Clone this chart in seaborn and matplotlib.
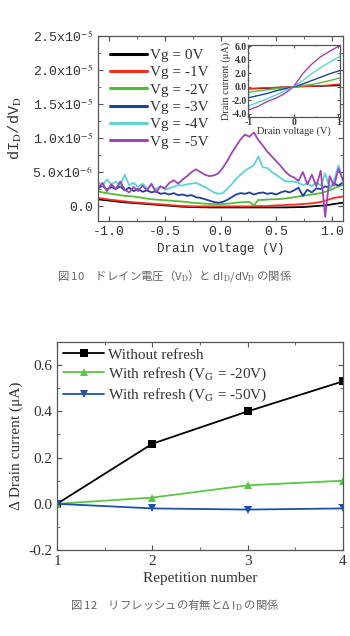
import numpy as np
import pandas as pd
import matplotlib
matplotlib.use("Agg")
import matplotlib.pyplot as plt
from matplotlib.ticker import MultipleLocator, FuncFormatter
import seaborn as sns

# ---------------- Fig.10 : dI/dV vs drain voltage (values in 1e-6 A/V) ----------------
VD = [-1.10, -1.06, -1.02, -0.98, -0.94, -0.90, -0.86, -0.82, -0.78, -0.74,
      -0.70, -0.66, -0.62, -0.58, -0.54, -0.50, -0.46, -0.42, -0.38, -0.34,
      -0.30, -0.26, -0.22, -0.18, -0.14, -0.10, -0.06, -0.02, 0.02, 0.06,
      0.10, 0.14, 0.18, 0.22, 0.26, 0.30, 0.34, 0.38, 0.42, 0.46,
      0.50, 0.54, 0.58, 0.62, 0.66, 0.70, 0.74, 0.78, 0.82, 0.86,
      0.90, 0.94, 0.98, 1.02, 1.06, 1.10]

VG0 = [1.0, 0.9, 0.85, 0.75, 0.7, 0.6, 0.55, 0.5, 0.45, 0.4,
       0.35, 0.3, 0.25, 0.2, 0.15, 0.1, 0.05, 0.0, -0.05, -0.1,
       -0.12, -0.15, -0.15, -0.18, -0.18, -0.2, -0.2, -0.2, -0.2, -0.2,
       -0.2, -0.2, -0.2, -0.2, -0.2, -0.2, -0.2, -0.2, -0.2, -0.2,
       -0.2, -0.2, -0.2, -0.18, -0.18, -0.15, -0.15, -0.1, -0.05, 0.0,
       0.05, 0.1, 0.2, 0.3, 0.4, 0.5]
VG1 = [1.2, 1.1, 1.0, 0.9, 0.85, 0.75, 0.7, 0.6, 0.55, 0.5,
       0.45, 0.4, 0.35, 0.3, 0.25, 0.2, 0.15, 0.1, 0.05, 0.0,
       0.0, -0.05, -0.05, -0.05, -0.05, -0.05, -0.05, -0.05, -0.05, -0.05,
       -0.05, -0.05, -0.05, -0.05, -0.05, 0.0, 0.0, 0.0, 0.0, 0.05,
       0.1, 0.1, 0.15, 0.2, 0.2, 0.25, 0.3, 0.35, 0.4, 0.5,
       0.6, 0.8, 1.0, 1.2, 1.3, 1.4]
VG2 = [2.2, 2.0, 1.9, 1.8, 1.7, 1.6, 1.5, 1.45, 1.4, 1.3,
       1.2, 1.1, 1.0, 0.95, 0.9, 0.85, 0.8, 0.75, 0.7, 0.65,
       0.6, 0.5, 0.45, 0.4, 0.35, 0.3, 0.3, 0.25, 0.3, 0.35,
       0.4, 0.5, 0.55, 0.6, 0.6, 0.1, 0.9, 0.9, 0.95, 1.0,
       1.0, 1.05, 1.1, 1.2, 1.3, 1.4, 1.5, 1.6, 1.7, 1.8,
       1.9, 2.1, 2.3, 2.6, 2.9, 3.1]
VG3 = [2.6, 3.0, 2.4, 2.8, 2.5, 2.9, 2.3, 2.7, 2.2, 2.5,
       2.1, 2.3, 2.0, 2.2, 1.8, 1.9, 1.7, 1.9, 1.6, 1.7,
       1.5, 1.6, 1.3, 1.2, 1.0, 0.8, 0.6, 0.5, 0.6, 0.9,
       1.3, 1.7, 1.9, 1.8, 2.0, 1.7, 1.9, 2.0, 1.8, 1.9,
       1.7, 2.0, 2.2, 2.0, 2.3, 2.7, 1.5, 2.4, 2.0, 2.6,
       2.5, 2.9, 2.7, 3.3, 3.0, 3.5]
VG4 = [3.5, 3.0, 3.9, 3.2, 3.6, 3.0, 4.6, 3.1, 3.4, 2.8,
       3.3, 2.6, 3.0, 2.5, 2.9, 2.4, 2.6, 2.8, 3.1, 3.0,
       3.2, 3.3, 3.4, 3.1, 2.8, 2.4, 2.0, 1.8, 1.9, 2.5,
       3.2, 4.0, 4.6, 5.2, 5.6, 6.0, 7.3, 5.7, 5.6, 5.0,
       4.6, 4.1, 3.7, 3.6, 3.6, 3.4, 3.1, 3.3, 2.9, 3.5,
       3.0, 4.8, 2.6, 3.8, 6.0, 3.5]
VG5 = [2.6, 3.4, 2.2, 3.2, 2.5, 3.6, 2.4, 2.0, 2.8, 2.2,
       3.0, 2.3, 3.3, 2.0, 2.9, 2.6, 3.4, 3.8, 3.3, 3.9,
       4.4, 5.0, 5.4, 5.0, 4.6, 4.4, 4.5, 4.8, 5.6, 6.6,
       7.8, 8.8, 9.8, 10.5, 10.2, 10.8, 9.7, 8.9, 8.0, 7.3,
       6.6, 5.9, 5.1, 4.5, 4.2, 3.7, 5.0, 3.2, 4.6, 2.9,
       5.2, -1.6, 4.4, 3.0, 5.5, 3.8]

VG_LABELS = ["Vg = 0V", "Vg = -1V", "Vg = -2V", "Vg = -3V", "Vg = -4V", "Vg = -5V"]
VG_COLORS = ["#000000", "#ff2a1a", "#55bb3c", "#1f3f9f", "#5fd2d6", "#a044b4"]

# inset: I-V curves (uA)
IV_V = [-1.0, -0.8, -0.6, -0.4, -0.2, 0.0, 0.2, 0.4, 0.6, 0.8, 1.04]
IV0 = [-0.3, -0.25, -0.2, -0.12, -0.06, 0.0, 0.05, 0.08, 0.1, 0.15, 0.2]
IV1 = [-0.25, -0.2, -0.15, -0.1, -0.05, 0.0, 0.05, 0.1, 0.15, 0.25, 0.4]
IV2 = [-0.8, -0.6, -0.45, -0.3, -0.15, 0.0, 0.15, 0.35, 0.6, 0.9, 1.3]
IV3 = [-1.6, -1.3, -1.0, -0.6, -0.3, 0.0, 0.4, 0.9, 1.4, 1.9, 2.4]
IV4 = [-2.8, -2.3, -1.8, -1.2, -0.6, 0.0, 0.9, 1.9, 2.8, 3.6, 4.5]
IV5 = [-3.4, -2.9, -2.2, -1.7, -1.0, 0.0, 1.9, 3.3, 4.4, 5.2, 6.1]

# ---------------- Fig.12 : delta drain current vs repetition ----------------
REPS = [1, 2, 3, 4]
NO_REFRESH = [0.0, 0.26, 0.40, 0.53]
REFRESH_20 = [0.0, 0.027, 0.08, 0.10]
REFRESH_50 = [0.0, -0.02, -0.025, -0.02]
REF_LABELS = ["Without refresh",
              r"With refresh (V$_\mathrm{G}$ = -20V)",
              r"With refresh (V$_\mathrm{G}$ = -50V)"]
REF_COLORS = ["#000000", "#5cc548", "#1f4fae"]
REF_MARKERS = ["s", "^", "v"]

sns.set_style("ticks")
plt.rcParams.update({
    "mathtext.fontset": "stix",
    "xtick.direction": "in", "ytick.direction": "in",
    "xtick.top": True, "ytick.right": True,
    "xtick.minor.visible": True, "ytick.minor.visible": True,
    "axes.edgecolor": "#555555", "axes.linewidth": 0.9,
    "xtick.color": "#555555", "ytick.color": "#555555",
    "xtick.labelcolor": "#333333", "ytick.labelcolor": "#333333",
    "xtick.major.size": 3.5, "ytick.major.size": 3.5,
    "xtick.minor.size": 2, "ytick.minor.size": 2,
})

MONO = "Liberation Mono"
SERIF = "Liberation Serif"
CJK = ["Noto Sans CJK JP", "DejaVu Sans"]

fig = plt.figure(figsize=(3.5, 6.36), dpi=100)

# ---- top chart ----
ax1 = fig.add_axes([0.28, 0.6525, 0.70, 0.2909])
didv = pd.DataFrame({
    "Vd": VD * 6,
    "dIdV": np.array(VG0 + VG1 + VG2 + VG3 + VG4 + VG5) * 1e-6,
    "Vg": np.repeat(VG_LABELS, len(VD)),
})
sns.lineplot(data=didv, x="Vd", y="dIdV", hue="Vg", hue_order=VG_LABELS,
             palette=VG_COLORS, estimator=None, sort=False, lw=1.3, ax=ax1)
ax1.set_xlim(-1.1, 1.1)
ax1.set_ylim(-2.2e-6, 2.5e-5)
ax1.xaxis.set_major_locator(MultipleLocator(0.5))
ax1.xaxis.set_minor_locator(MultipleLocator(0.25))
ax1.yaxis.set_major_locator(MultipleLocator(5e-6))
ax1.yaxis.set_minor_locator(MultipleLocator(2.5e-6))


def sci_fmt(v, pos):
    if abs(v) < 1e-12:
        return "0.0"
    m, e = f"{v:.1e}".split("e")
    return m + "x10$^{" + str(int(e)) + "}$"


ax1.yaxis.set_major_formatter(FuncFormatter(sci_fmt))
ax1.xaxis.set_major_formatter(FuncFormatter(lambda v, p: f"{v:.1f}"))
for t in ax1.get_xticklabels() + ax1.get_yticklabels():
    t.set_fontfamily(MONO)
    t.set_fontsize(9.5)
ax1.set_xlabel("Drain voltage (V)", family=MONO, fontsize=9, color="#333333", labelpad=4)
ax1.set_ylabel(r"dI$_\mathrm{D}$/dV$_\mathrm{D}$", family=MONO, fontsize=11,
               color="#333333", labelpad=6)
sns.move_legend(ax1, "upper left", title=None, frameon=False,
                prop={"family": SERIF, "size": 11}, handlelength=2.4,
                handletextpad=0.2, labelspacing=0.24, borderaxespad=0.4)
for h in ax1.get_legend().legend_handles:
    h.set_linewidth(2.2)
for t in ax1.get_legend().get_texts():
    t.set_color("#333333")

# inset
axi = fig.add_axes([0.7086, 0.816, 0.263, 0.1132])
iv = pd.DataFrame({
    "V": IV_V * 6,
    "I": IV0 + IV1 + IV2 + IV3 + IV4 + IV5,
    "Vg": np.repeat(VG_LABELS, len(IV_V)),
})
sns.lineplot(data=iv, x="V", y="I", hue="Vg", hue_order=VG_LABELS,
             palette=VG_COLORS, estimator=None, lw=1.0, legend=False, ax=axi)
axi.set_xlim(-1.02, 1.04)
axi.set_ylim(-4.45, 6.15)
axi.xaxis.set_major_locator(MultipleLocator(1))
axi.xaxis.set_minor_locator(MultipleLocator(0.5))
axi.yaxis.set_major_locator(MultipleLocator(2))
axi.yaxis.set_minor_locator(MultipleLocator(1))
axi.yaxis.set_major_formatter(FuncFormatter(lambda v, p: f"{v:.1f}"))
axi.xaxis.set_major_formatter(FuncFormatter(lambda v, p: f"{v:.0f}"))
axi.tick_params(which="major", length=2, pad=1)
axi.tick_params(which="minor", length=1)
for t in axi.get_xticklabels() + axi.get_yticklabels():
    t.set_fontfamily(SERIF)
    t.set_fontsize(7)
    t.set_fontweight("bold")
axi.set_xlabel("Drain voltage (V)", family=SERIF, fontsize=7.5, color="#333333", labelpad=-1)
axi.set_ylabel("Drain current (μA)", family=SERIF, fontsize=7.5, color="#333333", labelpad=0)

# ---- bottom chart ----
ax2 = fig.add_axes([0.163, 0.1352, 0.817, 0.327])
rep = pd.DataFrame({
    "rep": REPS * 3,
    "dI": NO_REFRESH + REFRESH_20 + REFRESH_50,
    "cond": np.repeat(REF_LABELS, len(REPS)),
})
sns.lineplot(data=rep, x="rep", y="dI", hue="cond", style="cond",
             hue_order=REF_LABELS, style_order=REF_LABELS,
             palette=REF_COLORS, markers=REF_MARKERS, dashes=False,
             markersize=6, markeredgewidth=0, lw=1.3, ax=ax2)
ax2.set_xlim(1, 4)
ax2.set_ylim(-0.2, 0.7)
ax2.xaxis.set_major_locator(MultipleLocator(1))
ax2.xaxis.set_minor_locator(MultipleLocator(0.5))
ax2.yaxis.set_major_locator(MultipleLocator(0.2))
ax2.yaxis.set_minor_locator(MultipleLocator(0.1))
ax2.yaxis.set_major_formatter(FuncFormatter(lambda v, p: f"{v:.1f}"))
for t in ax2.get_xticklabels() + ax2.get_yticklabels():
    t.set_fontfamily(SERIF)
    t.set_fontsize(11)
ax2.set_xlabel("Repetition number", family=SERIF, fontsize=11, color="#333333", labelpad=3)
ax2.set_ylabel("Δ Drain current (μA)", family=SERIF, fontsize=11, color="#333333", labelpad=4)
sns.move_legend(ax2, "upper left", title=None, frameon=False,
                prop={"family": SERIF, "size": 11}, handlelength=2.7,
                handletextpad=0.25, labelspacing=0.25, borderaxespad=0.2,
                borderpad=0.2)
for t in ax2.get_legend().get_texts():
    t.set_color("#333333")

# captions
fig.text(0.5, 1 - 276 / 636, r"図 10　ドレイン電圧（V$_\mathrm{D}$）と dI$_\mathrm{D}$/dV$_\mathrm{D}$ の関係",
         ha="center", va="center", family=CJK, fontsize=8.2, color="#666666")
fig.text(0.5, 1 - 605 / 636, r"図 12　リフレッシュの有無とΔ I$_\mathrm{D}$ の関係",
         ha="center", va="center", family=CJK, fontsize=8.2, color="#666666")

fig.savefig("out.png", dpi=100)
